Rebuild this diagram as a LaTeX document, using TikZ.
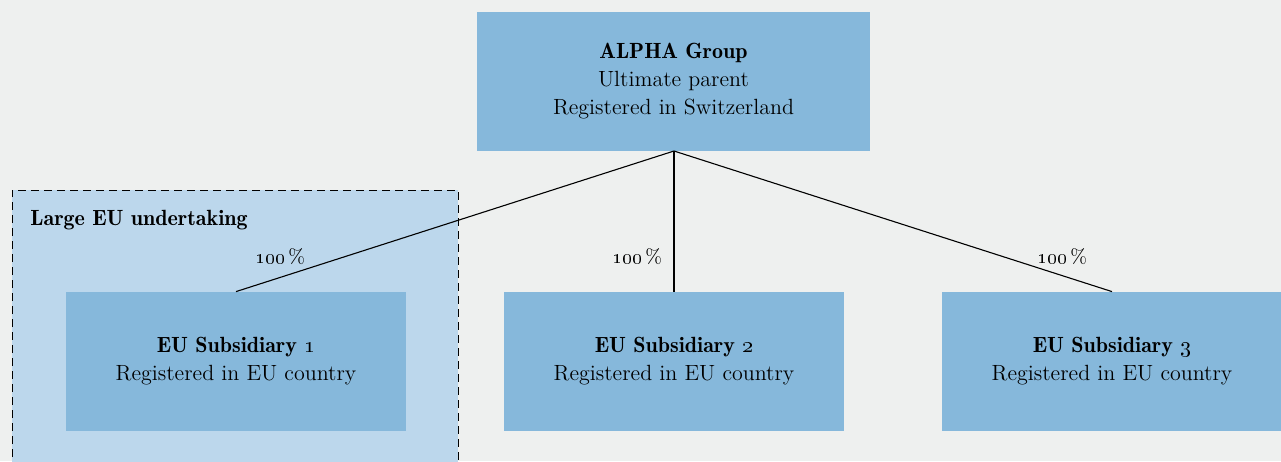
\documentclass[tikz,border=0pt]{standalone}
\usepackage{tikz}
\usetikzlibrary{positioning,calc}

\definecolor{bgpaper}{RGB}{238,240,239}
\definecolor{entityblue}{RGB}{134,184,219}
\definecolor{scopeblue}{RGB}{188,215,236}

\newcommand{\heading}[1]{{\fontseries{b}\selectfont #1}}

\begin{document}
\begin{tikzpicture}[
    x=0.5pt, y=-0.5pt,
    font=\fontsize{11}{14}\selectfont,
    entity/.style={rectangle, fill=entityblue, align=center, minimum width=170pt, minimum height=69.5pt, inner sep=0pt},
    share/.style={font=\fontsize{10}{11}\selectfont, inner sep=1pt},
    link/.style={draw=black, line width=0.55pt}
]

    % Canvas
    \fill[bgpaper] (0,0) rectangle (1281,461);
    \useasboundingbox (0,0) rectangle (1281,461);

    % Scope of the large EU undertaking
    \fill[scopeblue] (12,190) rectangle (458,470);
    \draw[line width=0.5pt, dash pattern=on 4pt off 2.5pt] (12,470) -- (12,190) -- (458,190) -- (458,470);
    \node[anchor=west, inner sep=0pt] (scope) at (30,220) {\heading{Large EU undertaking}};

    % Ultimate parent
    \node[entity, minimum width=196.5pt] (alpha) at (673.5,81.5) {
        \heading{ALPHA Group}\\
        Ultimate parent\\
        Registered in Switzerland
    };

    % EU subsidiaries
    \node[entity] (sub1) at (236,361.5) {
        \heading{EU Subsidiary \oldstylenums{1}}\\
        Registered in EU country
    };
    \node[entity] (sub2) at (674,361.5) {
        \heading{EU Subsidiary \oldstylenums{2}}\\
        Registered in EU country
    };
    \node[entity] (sub3) at (1112,361.5) {
        \heading{EU Subsidiary \oldstylenums{3}}\\
        Registered in EU country
    };

    % Ownership links
    \coordinate (root) at (674,151);
    \draw[link] (root) -- (sub1.north);
    \draw[link] (root) -- (sub2.north);
    \draw[link] (root) -- (sub3.north);

    % Shareholdings
    \node[share] (own1) at (280,257) {\oldstylenums{100}\,\%};
    \node[share] (own2) at (637,257) {\oldstylenums{100}\,\%};
    \node[share] (own3) at (1062,257) {\oldstylenums{100}\,\%};

\end{tikzpicture}
\end{document}
